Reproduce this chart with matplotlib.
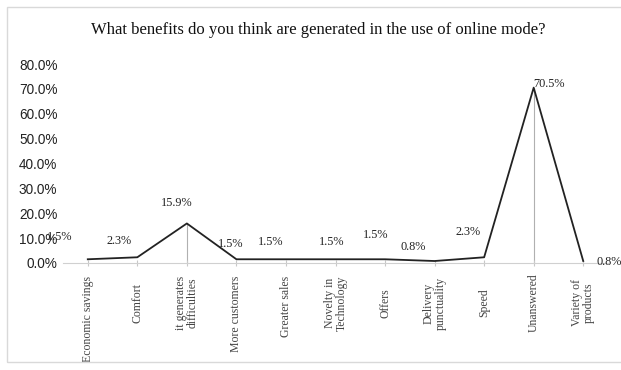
import matplotlib.pyplot as plt
from matplotlib.patches import Rectangle
from matplotlib.transforms import ScaledTranslation

# Respostas sobre os benefícios do modo online (em %)
categorias = ["Economic savings", "Comfort", "it generates\ndifficulties",
              "More customers", "Greater sales", "Novelty in\nTechnology",
              "Offers", "Delivery\npunctuality", "Speed", "Unanswered",
              "Variety of\nproducts"]
valores = [1.5, 2.3, 15.9, 1.5, 1.5, 1.5, 1.5, 0.8, 2.3, 70.5, 0.8]
rotulos = ["1.5%", "2.3%", "15.9%", "1.5%", "1.5%", "1.5%", "1.5%",
           "0.8%", "2.3%", "70.5%", "0.8%"]
yticks = [0, 10, 20, 30, 40, 50, 60, 70, 80]
picos = [2, 9]  # categorias com linha vertical até o eixo

# deslocamento (pixels) de cada rótulo em relação ao ponto
desloc = [(-28, 22), (-18, 16), (-10, 20), (-6, 15), (-15, 17), (-4, 17),
          (-9, 24), (-21, 14), (-16, 25), (15, 4), (26, -1)]

fig = plt.figure(figsize=(6.21, 3.70), dpi=100)
# moldura do gráfico (a borda direita fica fora da imagem)
fig.patches.append(Rectangle((7 / 621, 8 / 370), 620 / 621, 355 / 370,
                             transform=fig.transFigure, fill=False,
                             edgecolor="#d9d9d9", linewidth=1))
ax = fig.add_axes([63 / 621, 107 / 370, 545 / 621, 199 / 370])

x = range(len(categorias))
for i in picos:
    ax.vlines(i, 0, valores[i], color="#b0b0b0", linewidth=0.8, zorder=1)
ax.plot(x, valores, color="#222222", linewidth=1.3, zorder=2)

for i, (v, r) in enumerate(zip(valores, rotulos)):
    ax.annotate(r, (i, v), xytext=desloc[i], textcoords="offset pixels",
                ha="center", va="center", fontsize=8.8,
                family="Liberation Serif", color="#222222")

ax.set_xlim(-0.5, len(categorias) - 0.5)
ax.set_ylim(0, 80)
ax.set_yticks(yticks)
ax.set_yticklabels([f"{t:.1f}%" for t in yticks], family="Liberation Sans",
                   fontsize=9.8, color="#222222")
ax.set_xticks(list(x))
ax.set_xticklabels([])
ax.tick_params(axis="y", length=0, pad=4)
ax.tick_params(axis="x", length=4, direction="inout", color="#c8c8c8")
for lado in ["top", "right", "left"]:
    ax.spines[lado].set_visible(False)
ax.spines["bottom"].set_color("#d0d0d0")

# rótulos do eixo X na vertical, centrados; os longos começam logo abaixo do eixo
fig.canvas.draw()
renderer = fig.canvas.get_renderer()
for i, c in enumerate(categorias):
    t = ax.text(i, 0, c, rotation=90, ha="center", va="center",
                fontsize=8.5, family="Liberation Serif", color="#444444",
                linespacing=1.0,
                transform=ax.get_xaxis_transform() +
                ScaledTranslation(0, -40 / 100, fig.dpi_scale_trans))
    bb = t.get_window_extent(renderer)
    topo = 370 - bb.y1
    if topo < 273:
        t.set_va("top")
        t.set_transform(ax.get_xaxis_transform() +
                        ScaledTranslation(0, -13 / 100, fig.dpi_scale_trans))

fig.text(318 / 621, 1 - 30 / 370,
         "What benefits do you think are generated in the use of online mode?",
         ha="center", va="center", fontsize=12, family="Liberation Serif",
         color="#111111")

fig.savefig("out.png", dpi=100)
